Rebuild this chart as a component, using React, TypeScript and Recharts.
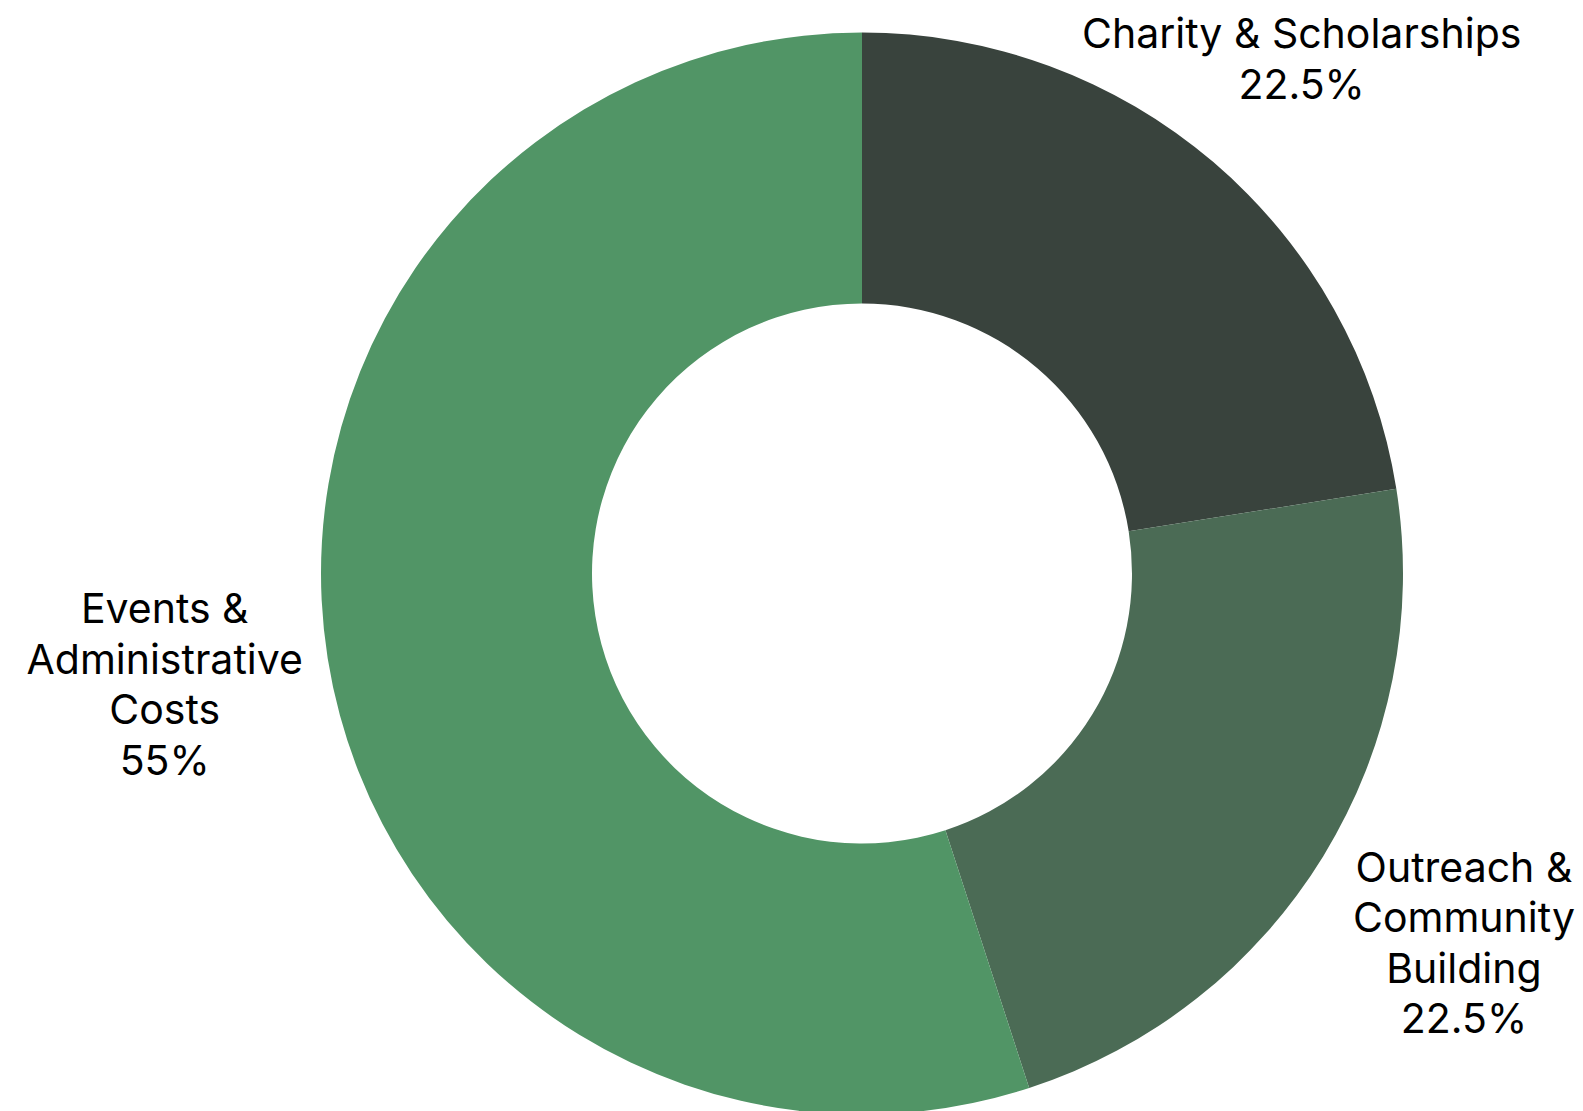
import { PieChart, Pie, Cell } from "recharts";

const categories = [
  "Charity & Scholarships",
  "Outreach & Community Building",
  "Events & Administrative Costs",
];

// how each category name is broken over lines in the label
const labelLines = [
  ["Charity & Scholarships"],
  ["Outreach &", "Community", "Building"],
  ["Events &", "Administrative", "Costs"],
];

const shares = [22.5, 22.5, 55];

const colors = ["#39433d", "#4b6b55", "#519566"];

const RADIAN = Math.PI / 180;
const LINE_HEIGHT = 50.5;

const renderLabel = (props: any) => {
  const { cx, cy, midAngle, outerRadius, index } = props;
  const lines = [...labelLines[index], `${shares[index]}%`];
  const dist = outerRadius + 107 + lines.length * 14.5;
  const x = cx + dist * Math.cos(-midAngle * RADIAN);
  const y = cy + dist * Math.sin(-midAngle * RADIAN);
  const startDy = (-(lines.length - 1) / 2) * LINE_HEIGHT;

  return (
    <text
      x={x}
      y={y}
      textAnchor="middle"
      dominantBaseline="central"
      fill="#000"
      fontFamily="Inter"
      fontSize={41}
    >
      {lines.map((line, i) => (
        <tspan key={i} x={x} dy={i === 0 ? startDy : LINE_HEIGHT}>
          {line}
        </tspan>
      ))}
    </text>
  );
};

const App = () => {
  const data = categories.map((name, i) => ({ name, value: shares[i] }));

  return (
    <div style={{ position: "absolute", left: 0, top: 0 }}>
      <PieChart
        width={1583}
        height={1111}
        margin={{ top: 0, right: 0, bottom: 0, left: 0 }}
      >
        <Pie
          data={data}
          dataKey="value"
          nameKey="name"
          cx={862}
          cy={573.5}
          innerRadius={270}
          outerRadius={541}
          startAngle={90}
          endAngle={-270}
          stroke="none"
          label={renderLabel}
          labelLine={false}
          isAnimationActive={false}
        >
          {data.map((entry, i) => (
            <Cell key={entry.name} fill={colors[i]} />
          ))}
        </Pie>
      </PieChart>
    </div>
  );
};

export default App;
